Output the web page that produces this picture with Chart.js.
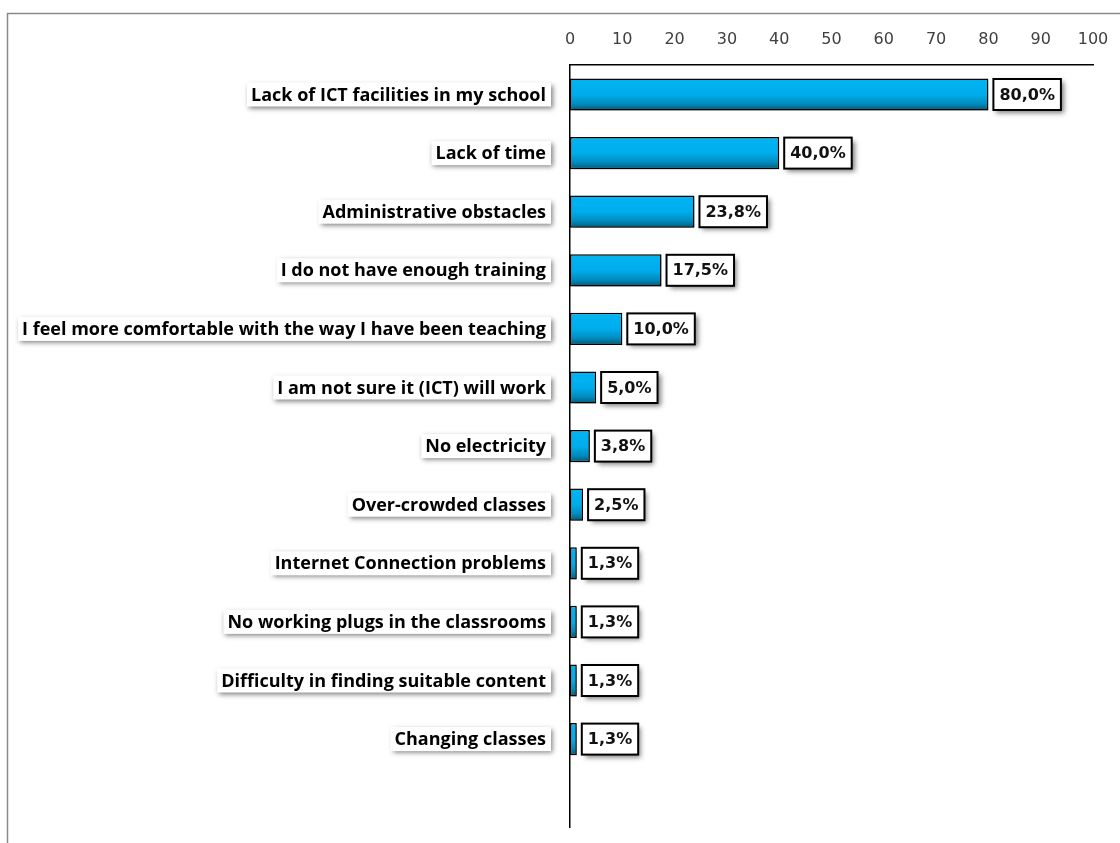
<!DOCTYPE html>
<html>
<head>
<meta charset="utf-8">
<script src="https://cdn.jsdelivr.net/npm/chart.js@4"></script>
<style>
  html, body { margin: 0; padding: 0; background: #fff; }
  #wrap { position: relative; width: 1120px; height: 843px; }
</style>
</head>
<body>
<div id="wrap"><canvas id="c"></canvas></div>
<script>
const categories = [
  "Lack of ICT facilities in my school",
  "Lack of time",
  "Administrative obstacles",
  "I do not have enough training",
  "I feel more comfortable with the way I have been teaching",
  "I am not sure it (ICT) will work",
  "No electricity",
  "Over-crowded classes",
  "Internet Connection problems",
  "No working plugs in the classrooms",
  "Difficulty in finding suitable content",
  "Changing classes",
  ""
];
const values = [80.0, 40.0, 23.8, 17.5, 10.0, 5.0, 3.8, 2.5, 1.3, 1.3, 1.3, 1.3, null];
const valueLabels = ["80,0%", "40,0%", "23,8%", "17,5%", "10,0%", "5,0%", "3,8%", "2,5%", "1,3%", "1,3%", "1,3%", "1,3%", ""];
const xTicks = [0, 10, 20, 30, 40, 50, 60, 70, 80, 90, 100];

function barGradient(ctx) {
  const chart = ctx.chart;
  const y = chart.scales && chart.scales.y;
  if (!chart.chartArea || !y || ctx.type !== 'data') return '#00B0F0';
  const el = chart.getDatasetMeta(0).data[ctx.dataIndex];
  const cy = y.getPixelForValue(ctx.dataIndex);
  const h = el && el.height ? el.height : 32;
  const g = chart.ctx.createLinearGradient(0, cy - h / 2, 0, cy + h / 2);
  g.addColorStop(0, '#00B4F2');
  g.addColorStop(0.5, '#00ADEC');
  g.addColorStop(0.78, '#008DC0');
  g.addColorStop(1, '#005A7A');
  return g;
}

const decor = {
  id: 'decor',
  beforeDraw(chart) {
    const c = chart.ctx;
    c.save();
    c.strokeStyle = '#8a8a8a';
    c.lineWidth = 1.5;
    c.beginPath();
    c.moveTo(7.5, 843);
    c.lineTo(7.5, 13.5);
    c.lineTo(1120, 13.5);
    c.stroke();
    c.restore();
  },
  beforeDatasetsDraw(chart) {
    const c = chart.ctx;
    c.save();
    c.shadowColor = 'rgba(0,0,0,0.35)';
    c.shadowBlur = 4;
    c.shadowOffsetX = 2;
    c.shadowOffsetY = 3;
  },
  afterDatasetsDraw(chart) {
    chart.ctx.restore();
    const c = chart.ctx;
    const y = chart.scales.y;
    const x = chart.scales.x;
    // category labels
    c.save();
    c.font = 'bold 18px "Open Sans"';
    c.textAlign = 'right';
    c.textBaseline = 'middle';
    categories.forEach((lab, i) => {
      if (!lab) return;
      const cy = y.getPixelForValue(i);
      const w = c.measureText(lab).width;
      const right = 546;
      c.save();
      c.shadowColor = 'rgba(0,0,0,0.5)';
      c.shadowBlur = 5;
      c.shadowOffsetX = 2;
      c.shadowOffsetY = 2;
      c.fillStyle = '#fff';
      c.fillRect(right - w - 4, cy - 12, w + 9, 24);
      c.restore();
      c.fillStyle = '#000';
      c.fillText(lab, right, cy + 1);
    });
    c.restore();
    // value labels
    c.save();
    c.font = 'bold 16px "DejaVu Sans"';
    c.textAlign = 'left';
    c.textBaseline = 'middle';
    values.forEach((v, i) => {
      if (v === null) return;
      const txt = valueLabels[i];
      const cy = y.getPixelForValue(i);
      const left = x.getPixelForValue(v) + 5;
      const w = c.measureText(txt).width;
      const bw = w + 12, bh = 31;
      c.save();
      c.shadowColor = 'rgba(0,0,0,0.5)';
      c.shadowBlur = 5;
      c.shadowOffsetX = 3;
      c.shadowOffsetY = 3;
      c.fillStyle = '#fff';
      c.fillRect(left, cy - bh / 2, bw, bh);
      c.restore();
      c.strokeStyle = '#000';
      c.lineWidth = 2;
      c.strokeRect(left, cy - bh / 2, bw, bh);
      c.fillStyle = '#111';
      c.fillText(txt, left + 6, cy + 1);
    });
    c.restore();
  }
};

new Chart(document.getElementById('c'), {
  type: 'bar',
  data: {
    labels: categories,
    datasets: [{
      data: values,
      backgroundColor: barGradient,
      borderColor: '#000',
      borderWidth: 1.5,
      borderSkipped: false,
      barPercentage: 0.55,
      categoryPercentage: 1.0
    }]
  },
  options: {
    indexAxis: 'y',
    responsive: true,
    maintainAspectRatio: false,
    animation: false,
    events: [],
    layout: { padding: { left: 570, right: 27, top: 14, bottom: 16 } },
    plugins: { legend: { display: false }, tooltip: { enabled: false } },
    scales: {
      x: {
        position: 'top',
        min: 0, max: 100,
        afterBuildTicks(scale) { scale.ticks = xTicks.map(v => ({ value: v })); },
        afterFit(scale) { scale.paddingLeft = 0; scale.paddingRight = 0; },
        ticks: {
          stepSize: 10,
          padding: 16,
          color: '#404040',
          font: { family: 'DejaVu Sans', size: 16 },
          maxRotation: 0
        },
        grid: { display: false, drawTicks: false },
        border: { display: true, color: '#000', width: 1.5 }
      },
      y: {
        ticks: { display: false },
        grid: { display: false, drawTicks: false },
        border: { display: true, color: '#000', width: 1.5 }
      }
    }
  },
  plugins: [decor]
});
</script>
</body>
</html>
